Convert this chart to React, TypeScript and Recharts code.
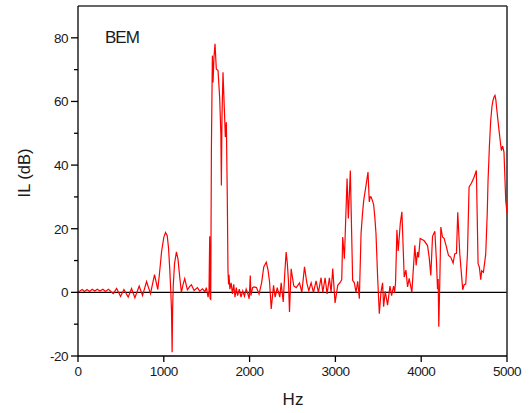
import { CartesianGrid, Line, LineChart, ReferenceLine, XAxis, YAxis } from "recharts";

// frequency (Hz) and insertion loss (dB)
const hz = [
  0, 30, 50, 75, 105, 135, 165, 195, 225, 255, 290, 320, 355, 385, 411, 450, 496, 535, 585, 624,
  663, 713, 752, 799, 845, 892, 930, 950, 975, 1000, 1020, 1040, 1055, 1070, 1082, 1090, 1097, 1103,
  1110, 1125, 1147, 1165, 1185, 1205, 1225, 1244, 1275, 1300, 1322, 1353, 1392, 1419, 1450, 1480,
  1496, 1516, 1527, 1535, 1540, 1547, 1555, 1566, 1574, 1585, 1597, 1612, 1632, 1651, 1665, 1671,
  1678, 1690, 1705, 1717, 1729, 1740, 1748, 1755, 1760, 1770, 1785, 1800, 1815, 1830, 1845, 1860,
  1880, 1900, 1920, 1940, 1960, 1980, 1995, 2008, 2015, 2035, 2050, 2080, 2110, 2140, 2165, 2194,
  2215, 2233, 2252, 2279, 2298, 2322, 2352, 2368, 2392, 2410, 2426, 2440, 2453, 2465, 2484, 2515,
  2543, 2582, 2609, 2640, 2667, 2690, 2717, 2744, 2775, 2802, 2833, 2853, 2880, 2903, 2930, 2950,
  2969, 2996, 3027, 3058, 3074, 3085, 3105, 3136, 3151, 3174, 3201, 3221, 3240, 3260, 3279, 3299,
  3315, 3330, 3357, 3380, 3395, 3405, 3415, 3430, 3446, 3460, 3473, 3485, 3492, 3512, 3531, 3550,
  3562, 3581, 3608, 3636, 3655, 3678, 3690, 3701, 3717, 3732, 3756, 3775, 3802, 3822, 3841, 3860,
  3891, 3926, 3941, 3957, 3969, 3988, 4035, 4074, 4093, 4112, 4132, 4159, 4178, 4190, 4198, 4205,
  4217, 4229, 4248, 4267, 4290, 4318, 4345, 4372, 4391, 4411, 4426, 4450, 4469, 4484, 4500, 4519,
  4539, 4558, 4585, 4616, 4643, 4663, 4678, 4694, 4705, 4725, 4752, 4770, 4779, 4795, 4810, 4825,
  4837, 4850, 4860, 4870, 4880, 4907, 4934, 4950, 4965, 4985, 5000,
];

const il = [
  0, 0.6, 0.9, 0.3, 0.9, 0.3, 1.0, 0.4, 1.0, 0.4, 1.0, 0.3, 1.0, 0.2, -0.4, 1.2, -1.3, 0.9, -1.5, 1.2,
  -1.7, 2.0, -1.0, 3.4, -0.4, 5.6, 0.9, 6, 13, 17.3, 18.8, 17.8, 14, 7, 0, -6, -18.8, -5,
  2, 9, 12.7, 10.5, 5, 0, 2.5, 4.3, 0.8, 1.8, 2.4, 0.6, 1.5, 0.4, 1.1, 0.2,
  1.5, -1.5, 0.6, 17.6, -2, -2.2, 45.6, 74.4, 66, 74, 78.1, 70.2, 69.7, 61.3, 50, 33.6,
  55, 69.2, 58, 48.8, 53.5, 30, 6.9, 2.5, 5.5, 1, 3, -0.5, 2.5, -1.5, 1.5, -1,
  1, -1.5, 0.5, -1.2, 1, -0.5, -2, 5.3, -1, 1.5, 1.7, 1.5, -0.5, 3, 8, 9.5,
  7, 3.2, -5.2, 2.2, -1.5, 1.5, -1.5, 3, -3, 6, 12.7, 9, 3.6, -6.2, 7.4, 2,
  1.5, 3, 0, 8, 3, 0.5, 3, 0, 3.6, 0, 4.6, 0, 4.6, -0.5, 4.6, 0,
  7.5, -3.3, 2.2, 3.2, 4, 17.4, 10.6, 35.8, 23.2, 38.3, 3.8, 3, 0, 3.5, -2, 18.5,
  24.5, 28.9, 33.6, 37.8, 28.4, 30, 30, 29, 27.5, 23.5, 18.5, 10, 4.8, -6.7, 0, 3,
  -4.5, 0.3, -4, 2, -1, 2, 0, 3, 19.6, 13, 21.6, 25.3, 4.8, 7, 1.7, 4.4,
  0, 14.8, 8.5, 12.7, 11, 16.9, 16.2, 14.7, 11, 5.3, 17.6, 19.2, 9.7, 1, 4.2, -10.8,
  3.7, 20.5, 17.4, 17, 14.7, 11.6, 11, 9.2, 12.1, 12.3, 25.2, 12, 5.8, 0.8, 2.4, 2.6,
  12, 33.1, 34.3, 36.2, 38.3, 9, 7.9, 4, 6.8, 6.3, 12, 25, 35.1, 46, 54, 58.5,
  60.3, 61.5, 61.9, 60.5, 57.7, 50.9, 44.6, 46, 44, 28.9, 25,
];

const xTicks = [0, 1000, 2000, 3000, 4000, 5000];
const yTicks = [-20, -10, 0, 10, 20, 30, 40, 50, 60, 70, 80];

const data = hz.map((h, i) => ({ hz: h, il: il[i] }));

const FONT = "'Liberation Sans', Arial, sans-serif";
const TEXT = "#1a1a1a";

function YTick(props: any) {
  const { x, y, payload } = props;
  const major = payload.value % 20 === 0;
  // x is the label anchor: axis - tickSize(7) - tickMargin(3)
  return (
    <g>
      <line x1={x + (major ? 3 : 6)} x2={x + 10} y1={y} y2={y} stroke="#000" strokeWidth={1.3} />
      {major && (
        <text x={x} y={y} dy="0.36em" textAnchor="end" fontSize={13.5} letterSpacing={-0.5} fill={TEXT} fontFamily={FONT}>
          {payload.value}
        </text>
      )}
    </g>
  );
}

export default function App() {
  return (
    <div style={{ position: "absolute", left: 0, top: 0, width: 530, height: 413, background: "#fff" }}>
      <LineChart width={530} height={413} data={data} margin={{ top: 6, right: 23, left: 0, bottom: 0 }}>
        <CartesianGrid stroke="none" />
        <XAxis
          type="number"
          dataKey="hz"
          domain={[0, 5000]}
          ticks={xTicks}
          height={57}
          tickSize={6}
          tickMargin={4}
          stroke="#000"
          axisLine={{ stroke: "#000", strokeWidth: 1.3 }}
          tickLine={{ stroke: "#000", strokeWidth: 1.3 }}
          tick={{ fontSize: 13.5, fill: TEXT, fontFamily: FONT, letterSpacing: -0.5 }}
        />
        <YAxis
          type="number"
          domain={[-20, 90]}
          ticks={yTicks}
          width={78}
          tickSize={7}
          tickMargin={3}
          tickLine={false}
          axisLine={{ stroke: "#000", strokeWidth: 1.3 }}
          tick={<YTick />}
        />
        <ReferenceLine y={0} stroke="#000" strokeWidth={1.3} />
        <ReferenceLine y={90} stroke="#333" strokeWidth={1.6} />
        <ReferenceLine x={5000} stroke="#333" strokeWidth={1.6} />
        <Line
          type="linear"
          dataKey="il"
          stroke="#ff0000"
          strokeWidth={1.2}
          dot={false}
          isAnimationActive={false}
        />
      </LineChart>
      <svg width={530} height={413} style={{ position: "absolute", left: 0, top: 0, pointerEvents: "none" }}>
        <text x={105} y={43} fontSize={17} letterSpacing={-1} fill={TEXT} fontFamily={FONT}>
          BEM
        </text>
        <text x={293} y={405} textAnchor="middle" fontSize={17} fill={TEXT} fontFamily={FONT}>
          Hz
        </text>
        <text
          x={30}
          y={173}
          textAnchor="middle"
          fontSize={16.5}
          fill={TEXT}
          fontFamily={FONT}
          transform="rotate(-90 30 173)"
        >
          IL (dB)
        </text>
      </svg>
    </div>
  );
}
